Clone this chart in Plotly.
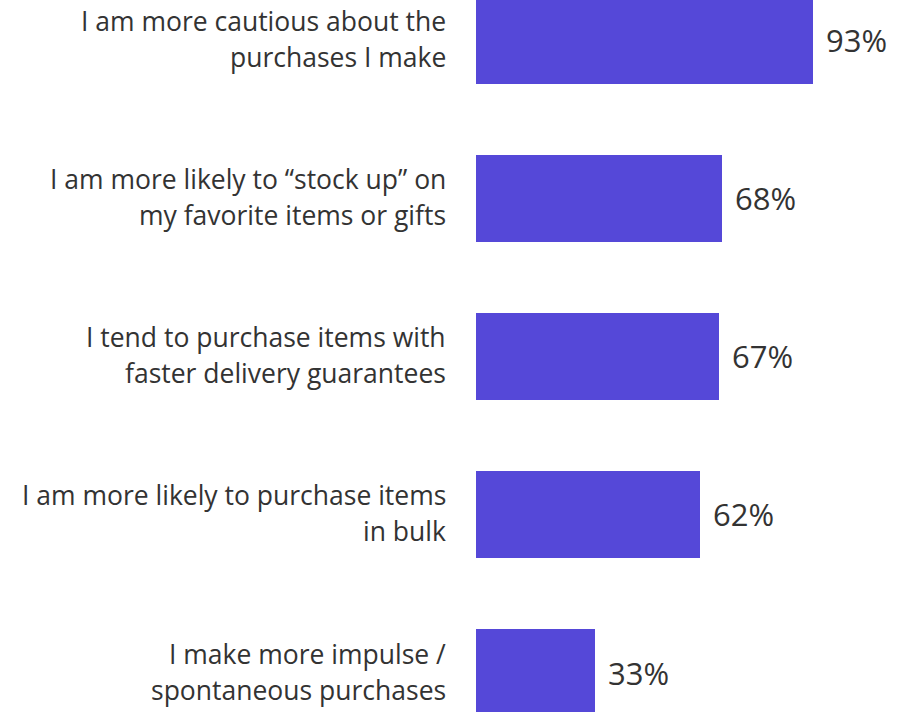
import plotly.graph_objects as go

# Survey statements (each split into its two display lines) and share of respondents
statements = [
    ["I am more cautious about the", "purchases I make"],
    ["I am more likely to “stock up” on", "my favorite items or gifts"],
    ["I tend to purchase items with", "faster delivery guarantees"],
    ["I am more likely to purchase items", "in bulk"],
    ["I make more impulse /", "spontaneous purchases"],
]
shares = [93, 68, 67, 62, 33]
value_labels = ["93%", "68%", "67%", "62%", "33%"]

BAR_COLOR = "#5548D8"
TEXT_COLOR = "#333333"
FONT = "Open Sans"

positions = list(range(len(shares)))

fig = go.Figure(
    go.Bar(
        x=shares,
        y=positions,
        orientation="h",
        width=0.55,
        marker=dict(color=BAR_COLOR, line=dict(width=0)),
        hoverinfo="skip",
    )
)

annotations = []
for pos, lines, val, lab in zip(positions, statements, shares, value_labels):
    # two-line category label, right-aligned left of the bars
    for i, line in enumerate(lines):
        annotations.append(dict(
            xref="paper", yref="y", x=0, y=pos,
            xanchor="right", yanchor="middle",
            xshift=-28, yshift=19 - 36 * i,
            text=line, showarrow=False,
            font=dict(family=FONT, size=26.5, color=TEXT_COLOR),
        ))
    # value label just past the bar end
    annotations.append(dict(
        xref="x", yref="y", x=val, y=pos,
        xanchor="left", yanchor="middle", xshift=11,
        text=lab, showarrow=False,
        font=dict(family=FONT, size=31, color=TEXT_COLOR),
    ))

fig.update_layout(
    width=902, height=712,
    margin=dict(l=476, r=0, t=0, b=0),
    paper_bgcolor="white", plot_bgcolor="white",
    showlegend=False,
    bargap=0,
    annotations=annotations,
    xaxis=dict(range=[0, 117.7], visible=False, fixedrange=True),
    yaxis=dict(range=[4.25, -0.256], visible=False, fixedrange=True),
)

fig.write_html("out.html")
